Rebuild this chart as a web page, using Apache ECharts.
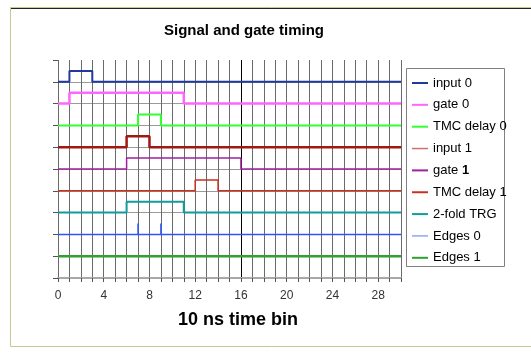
<!DOCTYPE html>
<html>
<head>
<meta charset="utf-8">
<script src="https://cdn.jsdelivr.net/npm/echarts@6/dist/echarts.min.js"></script>
<style>
  html, body { margin: 0; padding: 0; background: #fff; }
  #chart { width: 531px; height: 353px; }
</style>
</head>
<body>
<div id="chart"></div>
<script>
// signal names, resting level and the time window where each one is high
var names = ['input 0', 'gate 0', 'TMC delay 0', 'input 1', 'gate 1', 'TMC delay 1', '2-fold TRG', 'Edges 0', 'Edges 1'];
var baseLevel = [9, 8, 7, 6, 5, 4, 3, 2, 1];
var riseAt = [1, 1, 7, 6, 6, 12, 6, null, null];
var fallAt = [3, 11, 9, 8, 16, 14, 11, null, null];
var pulseHigh = 0.5;
// Edges 0 only shows short spikes, Edges 1 stays flat
var edgeTimes = {'Edges 0': [7, 9], 'Edges 1': []};
var xTicks = [0, 4, 8, 12, 16, 20, 24, 28];
var timeEnd = 30;

var colors = ['#1f3a9c', '#ff66ff', '#33ff33', '#a01810', '#a020a0', '#c83020', '#109c9c', '#2a55ff', '#30a030'];
var widths = [2, 2.5, 2, 2.5, 1.5, 1.5, 2, 1.5, 2.5];

function buildSignal(i) {
    var base = baseLevel[i];
    if (riseAt[i] !== null) {
        return [[0, base], [riseAt[i], base + pulseHigh], [fallAt[i], base], [timeEnd, base]];
    }
    var pts = [[0, base]];
    var times = edgeTimes[names[i]];
    for (var k = 0; k < times.length; k++) {
        pts.push([times[k], base]);
        pts.push([times[k], base + pulseHigh]);
        pts.push([times[k], base]);
    }
    pts.push([timeEnd, base]);
    return pts;
}

var series = [];
for (var i = 0; i < names.length; i++) {
    series.push({
        name: names[i],
        type: 'line',
        step: riseAt[i] !== null ? 'end' : false,
        symbol: 'none',
        animation: false,
        lineStyle: {color: colors[i], width: widths[i]},
        itemStyle: {color: colors[i]},
        data: buildSignal(i)
    });
}

// vertical grid: grey, with the line at 16 in black
var vColors = [];
for (var v = 0; v <= timeEnd; v++) {
    vColors.push(v === 16 ? '#000' : '#6a6a6a');
}

var legendData = names.map(function (n) {
    if (n === 'input 1') {
        return {name: n, lineStyle: {color: '#d07070', width: 1.5}};
    }
    if (n === 'Edges 0') {
        return {name: n, lineStyle: {color: '#5a78f0', width: 1}};
    }
    return {name: n};
});

var option = {
    backgroundColor: '#fff',
    animation: false,
    textStyle: {fontFamily: 'Liberation Sans, Arial, sans-serif'},
    grid: {left: 58, top: 60, right: 130, bottom: 75},
    legend: {
        orient: 'vertical',
        left: 406,
        top: 68,
        padding: [8.5, 5, 5, 5],
        itemWidth: 16,
        itemHeight: 14,
        itemGap: 8.85,
        data: legendData,
        itemStyle: {opacity: 0},
        textStyle: {
            fontSize: 13,
            color: '#000',
            rich: {b: {fontSize: 13, fontWeight: 'bold', color: '#000'}}
        },
        formatter: function (name) {
            return name === 'gate 1' ? 'gate {b|1}' : name;
        }
    },
    xAxis: {
        type: 'value',
        min: 0,
        max: timeEnd,
        interval: 1,
        axisLine: {show: true, lineStyle: {color: '#a8a8a8', width: 2}},
        axisTick: {show: true, length: 4, lineStyle: {color: '#555'}},
        axisLabel: {
            margin: 12,
            fontSize: 12,
            color: '#333',
            formatter: function (val) {
                return xTicks.indexOf(val) >= 0 ? String(val) : '';
            }
        },
        splitLine: {show: true, lineStyle: {color: vColors, width: 1}}
    },
    yAxis: {
        type: 'value',
        min: 0,
        max: 10,
        interval: 1,
        axisLine: {show: false},
        axisTick: {show: true, length: 5, lineStyle: {color: '#555'}},
        axisLabel: {show: false},
        splitLine: {show: true, showMaxLine: false, lineStyle: {color: '#9a9a9a', width: 1}}
    },
    graphic: [
        {
            type: 'rect',
            z: 0,
            silent: true,
            shape: {x: 10.5, y: 7.5, width: 600, height: 339},
            style: {fill: 'none', stroke: '#c8c890', lineWidth: 1}
        },
        {
            type: 'line',
            z: 0,
            silent: true,
            shape: {x1: 11, y1: 8.5, x2: 531, y2: 8.5},
            style: {stroke: '#222', lineWidth: 1}
        },
        {
            type: 'rect',
            z: 0,
            silent: true,
            shape: {x: 406.5, y: 68.5, width: 98, height: 198},
            style: {fill: '#fff', stroke: '#808080', lineWidth: 1}
        },
        {
            type: 'text',
            left: 164,
            top: 23,
            style: {text: 'Signal and gate timing', font: 'bold 15px Liberation Sans, Arial, sans-serif', fill: '#000'}
        },
        {
            type: 'text',
            left: 178,
            top: 311,
            style: {text: '10 ns time bin', font: 'bold 18px Liberation Sans, Arial, sans-serif', fill: '#000'}
        }
    ],
    series: series
};

var chart = echarts.init(document.getElementById('chart'));
chart.setOption(option);
</script>
</body>
</html>
